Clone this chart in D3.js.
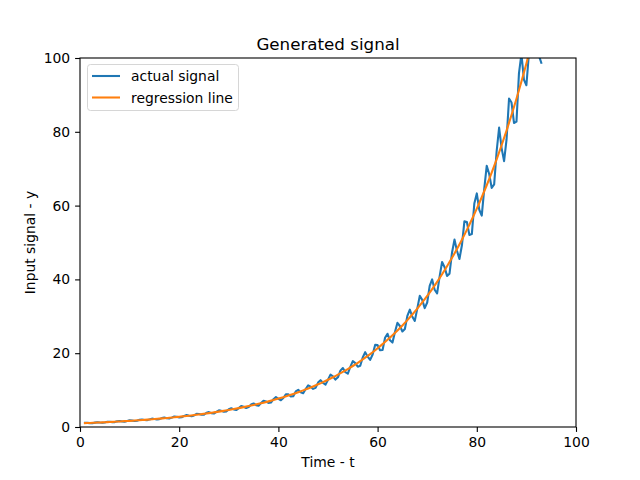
<!DOCTYPE html>
<html>
<head>
<meta charset="utf-8">
<script src="https://cdn.jsdelivr.net/npm/d3@7"></script>
<style>
body{margin:0;background:#fff;}
svg{font-family:"DejaVu Sans",sans-serif;}
</style>
</head>
<body>
<svg id="chart" width="640" height="480"></svg>
<script>
// ---- data ----
const signalT0 = 1, signalStep = 0.5;
const signalValues = [
1.126,1.112,1.041,1.045,1.188,1.292,1.214,1.170,1.239,1.403,
1.426,1.323,1.329,1.525,1.609,1.512,1.456,1.624,1.798,1.726,
1.630,1.708,1.936,2.024,1.883,1.832,2.062,2.263,2.192,2.073,
2.126,2.413,2.547,2.393,2.305,2.544,2.847,2.785,2.607,2.646,
3.007,3.234,3.040,2.899,3.135,3.548,3.537,3.315,3.328,3.856,
4.030,3.748,3.647,4.107,4.505,4.365,4.126,4.233,4.803,5.070,
4.763,4.587,5.114,5.666,5.490,5.135,5.381,6.101,6.377,5.931,
5.770,6.498,7.128,6.906,6.528,6.626,7.528,8.098,7.614,7.258,
7.850,8.883,8.858,8.300,8.335,9.654,10.09,9.385,9.131,10.29,
11.28,10.93,10.33,10.60,12.03,12.69,11.93,11.49,12.81,14.19,
13.75,12.86,13.47,15.28,15.98,14.85,14.45,16.27,17.85,17.30,
16.35,16.59,18.85,20.28,19.07,18.18,19.66,22.25,22.18,20.79,
20.88,24.18,25.27,23.50,22.87,25.76,28.25,27.37,25.88,26.55,
30.13,31.80,29.87,28.77,32.08,35.54,34.44,32.21,33.74,38.26,
40.00,37.20,36.19,40.76,44.71,43.32,40.95,41.56,47.22,50.79,
47.76,45.53,49.25,55.73,55.56,52.06,52.28,60.55,63.30,58.87,
57.28,64.51,70.76,68.55,64.80,65.77,74.73,81.13,75.59,72.05,
77.93,89.01,87.93,82.39,82.74,95.83,101.1,94.13,92.62,101.1,
109.9,103.2,100.4,100.7,98.7
];
const regressionT0 = 1, regressionStep = 1;
const regressionValues = [
1.052,1.107,1.165,1.226,1.291,1.358,1.429,1.504,1.583,1.665,
1.753,1.844,1.941,2.042,2.149,2.262,2.380,2.505,2.636,2.773,
2.919,3.071,3.232,3.401,3.579,3.766,3.964,4.171,4.389,4.618,
4.860,5.114,5.382,5.664,5.960,6.272,6.600,6.945,7.309,7.691,
8.093,8.517,8.962,9.431,9.925,10.44,10.99,11.57,12.17,12.81,
13.48,14.18,14.93,15.71,16.53,17.39,18.30,19.26,20.27,21.33,
22.45,23.62,24.86,26.16,27.53,28.97,30.48,32.08,33.76,35.52,
37.38,39.34,41.40,43.56,45.84,48.24,50.77,53.42,56.22,59.16,
62.26,65.52,68.94,72.55,76.35,80.34,84.55,88.97,93.63,98.53,
103.7,109.1
];
const xTicks = [0,20,40,60,80,100];
const yTicks = [0,20,40,60,80,100];
const seriesNames = ["actual signal","regression line"];
const seriesColors = ["#1f77b4","#ff7f0e"];
const titleText = "Generated signal";
const xLabel = "Time - t";
const yLabel = "Input signal - y";

// ---- layout ----
const svg = d3.select("#chart");
const mLeft = 80, mRight = 576, mTop = 58, mBottom = 427;
const x = d3.scaleLinear().domain([0,100]).range([mLeft,mRight]);
const y = d3.scaleLinear().domain([0,100]).range([mBottom,mTop]);

const sig = signalValues.map((v,i)=>({t:signalT0+i*signalStep, v}));
const reg = regressionValues.map((v,i)=>({t:regressionT0+i*regressionStep, v}));

svg.append("defs").append("clipPath").attr("id","clip")
  .append("rect").attr("x",mLeft).attr("y",mTop).attr("width",mRight-mLeft).attr("height",mBottom-mTop);

const lw = 2.08;
const line = d3.line().x(d=>x(d.t)).y(d=>y(d.v));
const g = svg.append("g").attr("clip-path","url(#clip)");
g.append("path").datum(sig).attr("d",line).attr("fill","none")
  .attr("stroke",seriesColors[0]).attr("stroke-width",lw).attr("stroke-linejoin","round").attr("stroke-linecap","square");
g.append("path").datum(reg).attr("d",d3.line().curve(d3.curveMonotoneX).x(d=>x(d.t)).y(d=>y(d.v))).attr("fill","none")
  .attr("stroke",seriesColors[1]).attr("stroke-width",lw).attr("stroke-linecap","square");

// axes
const fs = "13.9px";
const xAxis = svg.append("g").attr("transform",`translate(0,${mBottom})`)
  .call(d3.axisBottom(x).tickValues(xTicks).tickSize(4.9).tickPadding(4.9).tickFormat(d3.format("d")));
const yAxis = svg.append("g").attr("transform",`translate(${mLeft},0)`)
  .call(d3.axisLeft(y).tickValues(yTicks).tickSize(4.9).tickPadding(4.9).tickFormat(d3.format("d")));
[xAxis,yAxis].forEach(a=>{
  a.select(".domain").remove();
  a.selectAll("line").attr("stroke","#000").attr("stroke-width",1.1);
  a.selectAll("text").attr("fill","#000").style("font-size",fs).style("font-family","DejaVu Sans");
});

// frame
svg.append("rect").attr("x",mLeft).attr("y",mTop).attr("width",mRight-mLeft).attr("height",mBottom-mTop)
  .attr("fill","none").attr("stroke","#000").attr("stroke-width",1.1);

// title & labels
svg.append("text").attr("x",(mLeft+mRight)/2).attr("y",50).attr("text-anchor","middle")
  .style("font-size","16.7px").text(titleText);
svg.append("text").attr("x",(mLeft+mRight)/2).attr("y",467).attr("text-anchor","middle")
  .style("font-size",fs).text(xLabel);
svg.append("text").attr("transform",`translate(35,${(mTop+mBottom)/2}) rotate(-90)`).attr("text-anchor","middle")
  .style("font-size",fs).text(yLabel);

// legend
const lg = svg.append("g");
lg.append("rect").attr("x",87.5).attr("y",64.5).attr("width",151).attr("height",46).attr("rx",3)
  .attr("fill","#fff").attr("fill-opacity",0.8).attr("stroke","#d6d6d6").attr("stroke-width",1);
seriesNames.forEach((n,i)=>{
  const yy = 76 + i*21.5;
  lg.append("line").attr("x1",92).attr("x2",120).attr("y1",yy).attr("y2",yy)
    .attr("stroke",seriesColors[i]).attr("stroke-width",lw);
  lg.append("text").attr("x",131).attr("y",yy+5).style("font-size",fs).text(n);
});
</script>
</body>
</html>
